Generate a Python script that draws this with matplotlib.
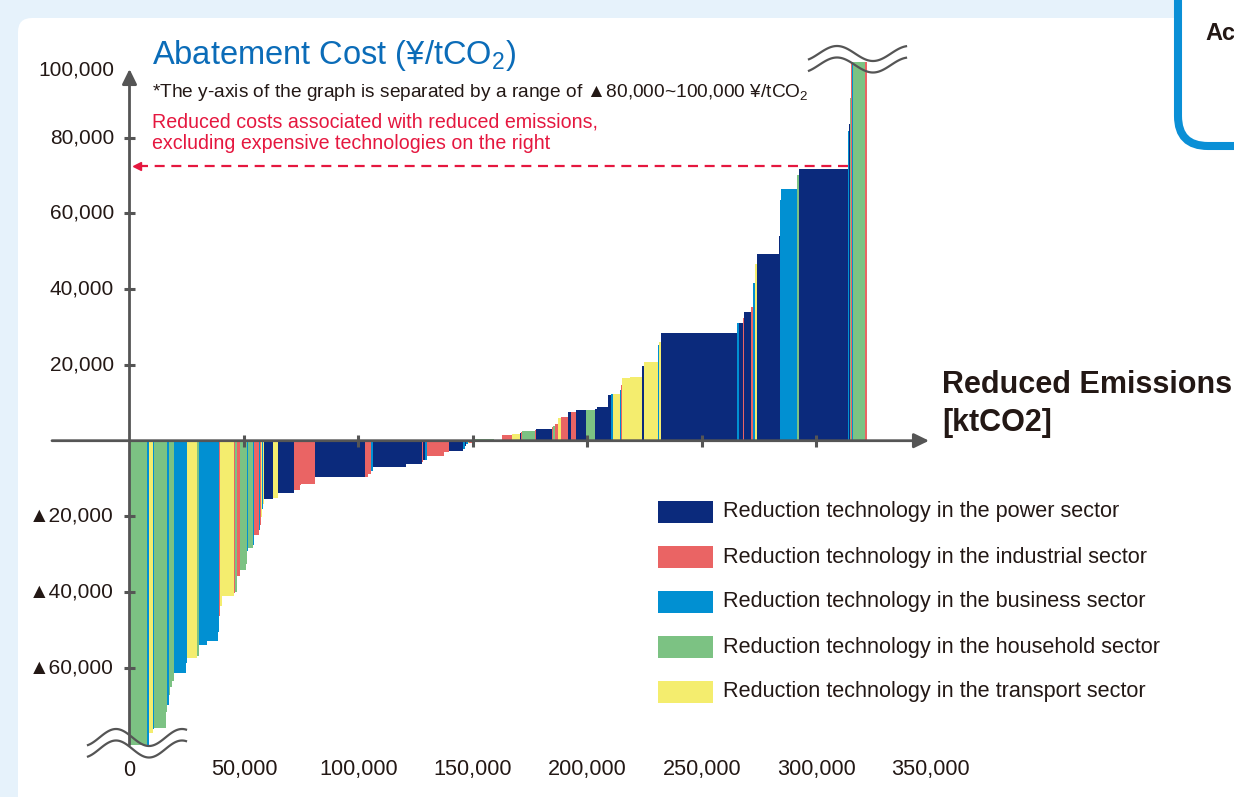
import matplotlib
matplotlib.use("Agg")
import matplotlib.pyplot as plt
import numpy as np
from matplotlib.patches import FancyBboxPatch, Rectangle

plt.rcParams["font.family"] = ["Liberation Sans", "DejaVu Sans"]
plt.rcParams["mathtext.fontset"] = "custom"
plt.rcParams["mathtext.rm"] = "Liberation Sans"

W_PX, H_PX = 1234, 797

SECTOR_COLORS = {
    "P": "#0b2a7c",   # power
    "I": "#ea6464",   # industrial
    "B": "#0190d2",   # business
    "H": "#7cc283",   # household
    "T": "#f4ed6e",   # transport
}
LEGEND_ORDER = ["P", "I", "B", "H", "T"]
LEGEND_LABELS = [
    "Reduction technology in the power sector",
    "Reduction technology in the industrial sector",
    "Reduction technology in the business sector",
    "Reduction technology in the household sector",
    "Reduction technology in the transport sector",
]

# abatement potential of each technology (ktCO2), in cost order
widths = [
    7860, 870, 1620, 440, 5370, 440, 440, 870, 660, 660,
    5240, 440, 4500, 740, 3500, 4810, 440, 440, 870, 5240,
    660, 870, 1400, 2320, 440, 440, 2180, 660, 1970, 440,
    660, 440, 440, 440, 3850, 2360, 6680, 2620, 740, 5810,
    21850, 1440, 1490, 870, 14110, 7300, 440, 870, 790, 7340,
    2050, 6250, 740, 740, 700, 300, 2180, 8740, 3500, 4670,
    3190, 740, 440, 5500, 300, 6990, 570, 740, 1310, 1310,
    3060, 1310, 2180, 4670, 3630, 870, 4810, 1440, 870, 2930,
    440, 440, 3500, 5240, 870, 6120, 570, 740, 33200, 870,
    1750, 440, 3060, 870, 870, 870, 9610, 440, 570, 6860,
    870, 21540, 440, 300, 440, 570, 440, 5240, 740,
]
# abatement cost (yen/tCO2); values beyond the axis break are shown cut
costs = [
    -80300, -80300, -77050, -76000, -75700, -71500, -69800, -67000, -65000, -63500,
    -61200, -58600, -57300, -56800, -53900, -52800, -50400, -46300, -43500, -41100,
    -40300, -39800, -35700, -34000, -32500, -29200, -28300, -27400, -24800, -23500,
    -22200, -20200, -18100, -16600, -15300, -15100, -13900, -13100, -11800, -11400,
    -9700, -9600, -8900, -8000, -7050, -6250, -5700, -5200, -5100, -4000,
    -3100, -2600, -2100, -1400, -1000, -600, -500, 500, 300, 1500,
    1750, 2100, 2400, 2650, 2800, 3100, 3500, 3900, 4400, 6100,
    6150, 7500, 7600, 8100, 8150, 8400, 8800, 12000, 12400, 12450,
    13500, 14800, 16600, 16900, 19800, 20800, 25300, 26000, 28400, 31100,
    31150, 32300, 34000, 35300, 41700, 46700, 49300, 54000, 63400, 66500,
    70200, 71800, 81600, 83600, 90400, 100000, 100000, 100000, 100000,
]
sectors = list(
    "HBTBHHBHHH" "BBTHBBBITT" "IHIHHBHBIB" "ITBTPTPIII" "PIIBPPIPBI"
    "IPBPBTIHPI" "TPIHIPIHIT" "IPIPHPPPBT" "BITTPTBTPB" "PIPIBTPPBB"
    "HPBPHIBHI"
)

x_ticks = [0, 50000, 100000, 150000, 200000, 250000, 300000, 350000]
x_tick_labels = ["0", "50,000", "100,000", "150,000", "200,000",
                 "250,000", "300,000", "350,000"]
y_ticks = [80000, 60000, 40000, 20000, -20000, -40000, -60000]
y_tick_labels = ["80,000", "60,000", "40,000", "20,000",
                 "\u25b220,000", "\u25b240,000", "\u25b260,000"]
y_top_label = "100,000"
cap_level = 72500          # cost level of the dashed red arrow
n_expensive = 7            # technologies right of the arrow

# pixel <-> data mapping of the drawing
X0_PX, KT_PER_PX = 129.5, 436.9
Y0_PX, YEN_PER_PX = 440.7, 263.9


def kt(px):
    return (px - X0_PX) * KT_PER_PX


def yen(py):
    return (Y0_PX - py) * YEN_PER_PX


AX_COLOR = "#555555"
TXT = "#231815"
RED = "#e5173f"

fig = plt.figure(figsize=(W_PX / 100, H_PX / 100), dpi=100)
fig.patch.set_facecolor("#e6f2fb")

# background / decoration layer in pixel units
bg = fig.add_axes([0, 0, 1, 1])
bg.set_xlim(0, W_PX)
bg.set_ylim(H_PX, 0)
bg.axis("off")
bg.add_patch(FancyBboxPatch((18, 18), 1400, 900, boxstyle="round,pad=0,rounding_size=14",
                            fc="white", ec="none"))
bg.add_patch(FancyBboxPatch((1178, -80), 200, 226, boxstyle="round,pad=0,rounding_size=30",
                            fc="white", ec="#0a8fd6", lw=5.8))
bg.text(1205, 33, "Ac", fontsize=17, fontweight="bold", color=TXT, va="center")

# main chart layer in data units
ax = fig.add_axes([0, 0, 1, 1])
ax.set_xlim(kt(0), kt(W_PX))
ax.set_ylim(yen(H_PX), yen(0))
ax.axis("off")

lefts = np.concatenate([[0], np.cumsum(widths)[:-1]])
ax.bar(lefts, costs, width=widths, align="edge",
       color=[SECTOR_COLORS[s] for s in sectors], linewidth=0, zorder=2)

# axes with arrows
arrow = dict(arrowstyle="-|>,head_length=0.45,head_width=0.22", color=AX_COLOR,
             lw=2, shrinkA=0, shrinkB=0, mutation_scale=20)
ax.annotate("", xy=(kt(929), 0), xytext=(kt(52), 0), arrowprops=arrow, zorder=4)
ax.annotate("", xy=(0, yen(69)), xytext=(0, min(costs)), arrowprops=arrow, zorder=4)

inner = [t for t in x_ticks if 0 < t < kt(925)]
ax.vlines(inner, yen(447), yen(435), color=AX_COLOR, lw=2.2, zorder=4)
ax.hlines(y_ticks, kt(124), kt(135), color=AX_COLOR, lw=2.2, zorder=4)

for t, lab in zip(x_ticks, x_tick_labels):
    ax.text(t, yen(770), lab, ha="center", va="center", fontsize=15.6, color=TXT)
for t, lab in zip(y_ticks, y_tick_labels):
    ax.text(kt(114), t, lab, ha="right", va="center", fontsize=15, color=TXT)
ax.text(kt(114), yen(70), y_top_label, ha="right", va="center", fontsize=15, color=TXT)

# axis-break waves
def wave(x0, x1, peak, period, centre, amp):
    xs = np.linspace(x0, x1, 120)
    ys = centre - amp * np.cos(2 * np.pi * (xs - peak) / period)
    return kt(xs), yen(ys)

for c in (737.5, 749.0):
    wx, wy = wave(88, 186, 116, 66, c, 8.5)
    ax.plot(wx, wy, color=AX_COLOR, lw=1.6, zorder=5)
for c in (53.5, 65.0):
    wx, wy = wave(809, 906, 837, 72, c, 7.5)
    ax.plot(wx, wy, color=AX_COLOR, lw=1.6, zorder=5)

# dashed red arrow: cost range excluding expensive technologies
x_end = lefts[-n_expensive]
ax.plot([x_end, kt(138)], [cap_level, cap_level], color=RED, lw=1.6,
        linestyle=(0, (4.5, 3)), zorder=3)
ax.plot([kt(137)], [cap_level], marker="<", ms=6, color=RED, zorder=3)

# texts
bg.text(152, 64, "Abatement Cost (\u00a5/tCO$_{\\mathregular{2}}$)", fontsize=23.5,
        color="#0b6cb8", va="baseline")
bg.text(152, 97, "*The y-axis of the graph is separated by a range of "
        "\u25b280,000~100,000 \u00a5/tCO$_{\\mathregular{2}}$",
        fontsize=13.8, color=TXT, va="baseline")
bg.text(152, 127, "Reduced costs associated with reduced emissions,",
        fontsize=14.1, color=RED, va="baseline")
bg.text(152, 149, "excluding expensive technologies on the right",
        fontsize=14.1, color=RED, va="baseline")
bg.text(942, 385, "Reduced Emissions", fontsize=22, fontweight="bold",
        color=TXT, va="center")
bg.text(942, 423, "[ktCO2]", fontsize=22, fontweight="bold", color=TXT, va="center")

# legend
for i, (code, lab) in enumerate(zip(LEGEND_ORDER, LEGEND_LABELS)):
    yc = 512 + 45 * i
    bg.add_patch(Rectangle((658, yc - 11), 55, 22, fc=SECTOR_COLORS[code], ec="none"))
    bg.text(723, yc, lab, fontsize=15.6, color=TXT, va="center")

fig.savefig("out.png", dpi=100)
